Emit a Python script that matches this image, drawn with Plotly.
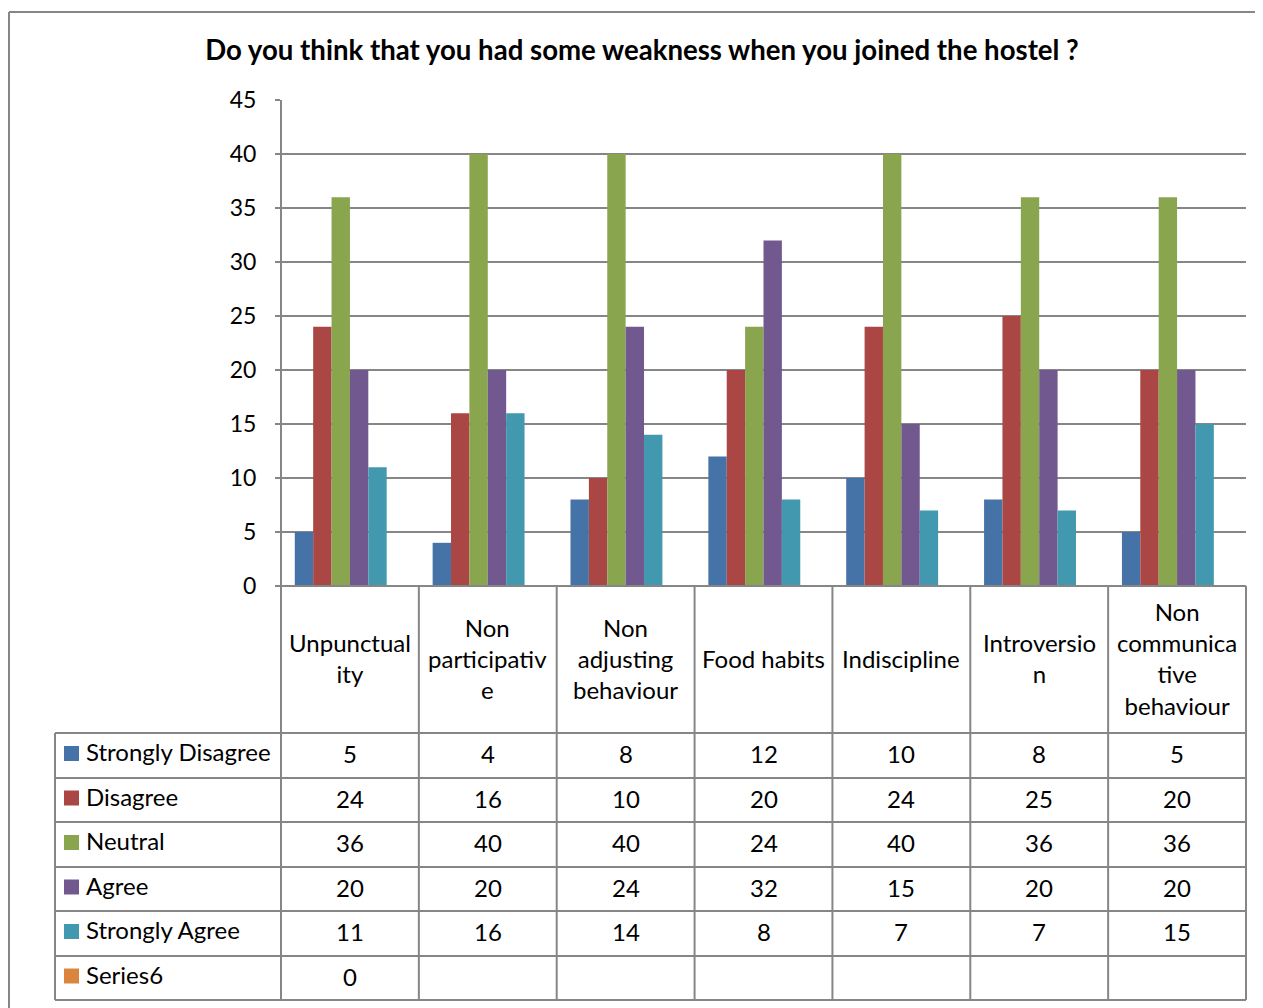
import plotly.graph_objects as go

categories = ["Unpunctuality", "Non participative", "Non adjusting behaviour",
              "Food habits", "Indiscipline", "Introversion", "Non communicative behaviour"]
category_labels = ["Unpunctual<br>ity", "Non<br>participativ<br>e", "Non<br>adjusting<br>behaviour",
                   "Food habits", "Indiscipline", "Introversio<br>n",
                   "Non<br>communica<br>tive<br>behaviour"]

strongly_disagree = [5, 4, 8, 12, 10, 8, 5]
disagree = [24, 16, 10, 20, 24, 25, 20]
neutral = [36, 40, 40, 24, 40, 36, 36]
agree = [20, 20, 24, 32, 15, 20, 20]
strongly_agree = [11, 16, 14, 8, 7, 7, 15]
series6 = [0, None, None, None, None, None, None]

series = [
    ("Strongly Disagree", strongly_disagree, "#4572A7"),
    ("Disagree", disagree, "#AA4643"),
    ("Neutral", neutral, "#89A54E"),
    ("Agree", agree, "#71588F"),
    ("Strongly Agree", strongly_agree, "#4198AF"),
    ("Series6", series6, "#DB843D"),
]

FONT = "Lato"
GRID = "#868686"
OFF = 8  # page body margin
W, H = 1263 - OFF, 1008 - OFF

# plot area in screen pixels
L, R, T, B = 281, 1246, 100, 586


def px(x):
    return (x - L) / (R - L)


def py(y):
    return (B - y) / (B - T)


fig = go.Figure()
for name, vals, color in series:
    fig.add_trace(go.Bar(x=categories, y=vals, name=name, marker_color=color,
                         marker_line_width=0, showlegend=False))

shapes = []
annotations = []


def line(x0, y0, x1, y1):
    shapes.append(dict(type="line", xref="paper", yref="paper",
                       x0=px(x0), y0=py(y0), x1=px(x1), y1=py(y1),
                       line=dict(color=GRID, width=2)))


# outer chart border (left and top edges visible)
line(9, 12, 9, 1040)
line(9, 12, 1300, 12)

# data table grid
rows = [733, 778, 822, 867, 911, 956, 1000]
n = len(categories)
cols = [L + (R - L) * i / n for i in range(n + 1)]
line(L, B, R, B)
for y in rows:
    line(55, y, R, y)
line(55, rows[0], 55, rows[-1])
line(L, T, L, rows[-1])
for x in cols[1:]:
    line(x, B, x, rows[-1])

# category header cells
for i, lab in enumerate(category_labels):
    annotations.append(dict(xref="paper", yref="paper", x=(i + 0.5) / n, y=py(658),
                            text=lab, showarrow=False, xanchor="center", yanchor="middle",
                            font=dict(family=FONT, size=24, color="black")))

# rows: legend key, series name, values
for r, (name, vals, color) in enumerate(series):
    yc = (rows[r] + rows[r + 1]) / 2
    shapes.append(dict(type="rect", xref="paper", yref="paper",
                       x0=px(64), x1=px(79), y0=py(yc - 9.5), y1=py(yc + 5.5),
                       line=dict(width=0), fillcolor=color))
    annotations.append(dict(xref="paper", yref="paper", x=px(84), y=py(yc - 4),
                            text=name, showarrow=False, xanchor="left", yanchor="middle",
                            font=dict(family=FONT, size=24, color="black")))
    for i, v in enumerate(vals):
        if v is None:
            continue
        annotations.append(dict(xref="paper", yref="paper", x=(i + 0.5) / n, y=py(yc - 2),
                                text=str(v), showarrow=False, xanchor="center", yanchor="middle",
                                font=dict(family=FONT, size=24, color="black")))

fig.update_layout(
    width=W, height=H,
    margin=dict(l=L - OFF, r=W - (R - OFF), t=T - OFF, b=H - (B - OFF)),
    paper_bgcolor="white", plot_bgcolor="white",
    barmode="group", bargap=0.2, bargroupgap=0,
    title=dict(text="<b>Do you think that you had some weakness when you joined the hostel ?</b>",
               xref="paper", x=px(642), xanchor="center",
               yref="container", y=1 - (50 - OFF) / H, yanchor="middle",
               font=dict(family=FONT, size=27.6, color="black")),
    xaxis=dict(range=[-0.5, n - 0.5], showticklabels=False, showgrid=False,
               showline=False, zeroline=False),
    yaxis=dict(range=[0, 45], dtick=5, showgrid=True, gridcolor=GRID, gridwidth=2,
               zeroline=False, showline=False, ticks="outside", ticklen=5,
               tickcolor=GRID, tickwidth=2, ticklabelstandoff=14,
               tickfont=dict(family=FONT, size=23, color="black")),
    shapes=shapes,
    annotations=annotations,
)

fig.write_html("out.html")
